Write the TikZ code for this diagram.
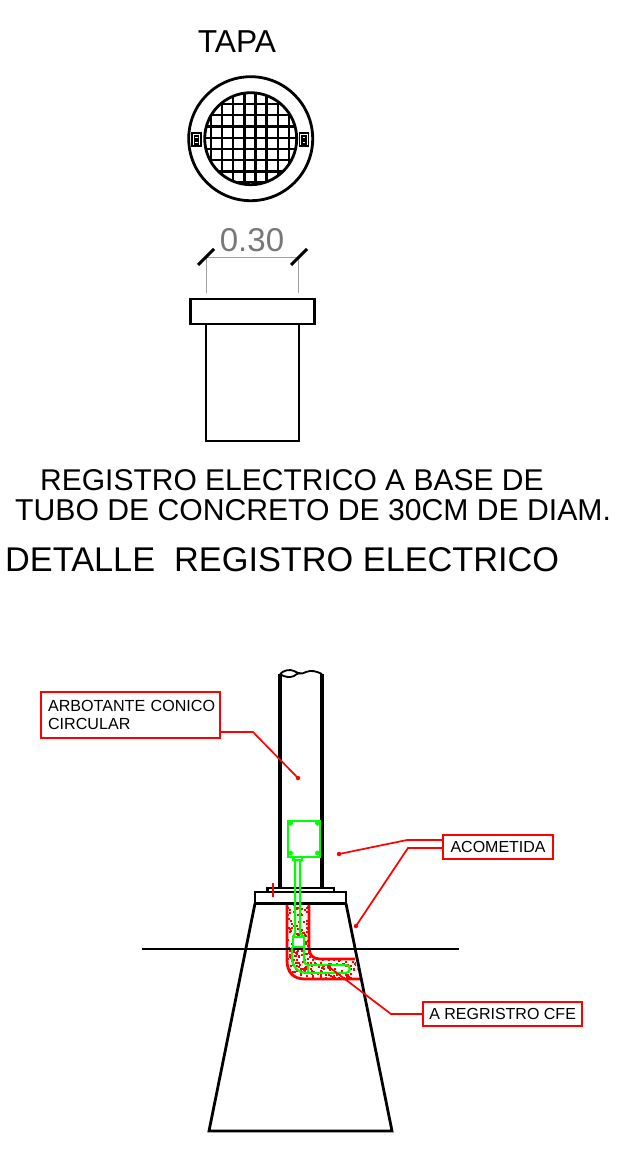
\documentclass[tikz,border=0pt]{standalone}
\usepackage{fontspec}
\setmainfont{Liberation Sans}
\definecolor{cadgreen}{RGB}{0,255,0}
\definecolor{cadred}{RGB}{255,0,0}
\definecolor{dimgray}{RGB}{120,120,120}
\newcommand{\fs}[1]{\fontsize{#1}{#1}\selectfont}
\tikzset{
  x=1pt,y=-1pt,
  obj/.style={draw=black,line width=2.8pt},
  thin obj/.style={draw=black,line width=1.8pt},
  grn/.style={draw=cadgreen,line width=2.3pt},
  concrete/.style={draw=cadred,line width=2.8pt},
  leader/.style={draw=cadred,line width=1.7pt},
  lbl/.style={draw=cadred,line width=2.2pt,fill=white,align=left,anchor=west,inner sep=0pt,text=black},
  title/.style={inner sep=0pt,anchor=base west},
  tip/.style={circle,fill=cadred,inner sep=0pt,minimum size=4.5pt},
  gdot/.style={circle,fill=cadgreen,inner sep=0pt,minimum size=5pt}
}
\begin{document}
\begin{tikzpicture}
\useasboundingbox (0,0) rectangle (624,1153);
\fill[white] (0,0) rectangle (624,1153);
% texts
\node[inner sep=0pt,anchor=base] (tapa) at (237,53) {\fs{31.7}TAPA};
\node[title] (l1) at (40,490.5) {\fs{30}REGISTRO ELECTRICO A BASE DE};
\node[title] (l2) at (15,520) {\fs{30.15}TUBO DE CONCRETO DE 30CM DE DIAM.};
\node[title] (l3) at (5,571) {\fs{34.3}DETALLE\ \ REGISTRO ELECTRICO};
% lid
\draw[obj] (250.7,138.7) circle (62);
\begin{scope}
\clip (250.7,138.7) circle (46);
\foreach \x in {211,222,233,244.5,255.5,266.5,278,289}
  \draw[black,line width=2.3pt] (\x,90) -- (\x,190);
\foreach \y in {104,115,126.5,138,149,160,171.5,182}
  \draw[black,line width=2.3pt] (200,\y) -- (300,\y);
\end{scope}
\draw[obj] (250.7,138.7) circle (46);
\foreach \x in {196.7,304}{
  \draw[black,line width=1.6pt,fill=white] (\x-4.5,133) rectangle (\x+4.5,146);
  \draw[black,line width=1.2pt] (\x-2,136) rectangle (\x+2,139);
  \draw[black,line width=1.2pt] (\x-2,141) rectangle (\x+2,144);
}
% dimension
\node[inner sep=0pt,anchor=base,text=dimgray] (dimtxt) at (252,251) {\fs{33}0.30};
\draw[dimgray!70,line width=0.9pt] (206,257) -- (206,293);
\draw[dimgray!70,line width=0.9pt] (298,257) -- (298,293);
\draw[dimgray!70,line width=0.9pt] (206,257) -- (298,257);
\draw[black,line width=3pt] (198,265) -- (214,249);
\draw[black,line width=3pt] (291,265) -- (307,249);
% section
\draw[obj] (190.5,299) rectangle (314.5,324);
\draw[obj] (206,324) rectangle (299,441);
% concrete envelope
\begin{scope}
\clip (287,903) -- (287,960) .. controls (287,972) and (293,979) .. (305,979) -- (360,979) -- (355,959) -- (320,959) .. controls (313,959) and (309,955) .. (309,948) -- (309,903) -- cycle;
\pgfmathsetseed{7}
\foreach \i in {1,...,520}{
  \pgfmathsetmacro{\px}{285+rnd*78}
  \pgfmathsetmacro{\py}{903+rnd*78}
  \fill[cadred] (\px,\py) rectangle ++(2,2);
}
\end{scope}
\draw[concrete] (287,903) -- (287,960) .. controls (287,972) and (293,979) .. (305,979) -- (360,979);
\draw[concrete] (309,903) -- (309,948) .. controls (309,955) and (313,959) .. (320,959) -- (355,959);
% pole
\draw[obj,line width=3.3pt] (280,888) -- (280,674);
\draw[obj,line width=3.3pt] (322,888) -- (322,674);
\draw[thin obj] (280,674) .. controls (284,670) and (290,669) .. (294,671) .. controls (298,673) and (301,675) .. (306,672) .. controls (311,670) and (316,671) .. (322,674);
\draw[thin obj] (280,674) .. controls (284,677) and (290,678) .. (294,676) .. controls (297,674) and (298,673) .. (300,673);
% base
\draw[obj,line width=2.2pt] (267.5,888) rectangle (334,892);
\draw[obj,line width=2.4pt] (255,892) rectangle (346,903.5);
\draw[obj] (255,903.5) -- (209,1131) -- (392,1131) -- (346,903.5);
\draw[obj] (142,949) -- (459,949);
\draw[cadred,line width=1.7pt] (273,883) -- (273,897);
% green
\node[draw=cadgreen,line width=2.4pt,minimum width=32pt,minimum height=36pt,inner sep=0pt] (jbox) at (304,839) {};
\foreach \a/\b in {290.5/823,317.5/823,290.5/853,317.5/853}
  \node[gdot] at (\a,\b) {};
\draw[grn] (293.5,857) rectangle (302,860);
\draw[grn] (295,860) -- (295,933) -- (293,937);
\draw[grn] (300,860) -- (300,933) -- (304,937);
\draw[grn,fill=white] (293,937) rectangle (304,947);
\draw[grn] (292,947) -- (292,957) .. controls (292,967) and (298,973) .. (308,973) -- (346,973) .. controls (351,973) and (351,965) .. (346,965) -- (308,965);
\draw[grn] (304,947) -- (304,959) .. controls (304,962) and (305,965) .. (308,965);
\draw[grn] (308,965) -- (308,973);
% labels
\node[lbl,minimum width=179pt,minimum height=46pt,text width=175pt,inner xsep=2pt,font=\fontsize{16.1}{18.5}\selectfont] (b1) at (40,715) {\hspace*{5pt}ARBOTANTE CONICO\\\hspace*{5pt}CIRCULAR};
\node[lbl,minimum width=110pt,minimum height=24pt,align=center] (b2) at (442,847) {\fs{16}ACOMETIDA};
\node[lbl,minimum width=159pt,minimum height=24pt,align=center] (b3) at (422,1014) {\fs{16}A REGRISTRO CFE};
\node[tip] (t1) at (298,778) {};
\node[tip] (t2) at (339,854) {};
\node[tip] (t3) at (356,926) {};
\node[tip] (t4) at (329,967) {};
\coordinate (k1) at (253,732);
\coordinate (k2) at (407,840);
\coordinate (k3) at (408,848);
\coordinate (k4) at (391,1014);
\draw[leader] (b1.east |- k1) -- (k1) -- (t1.center);
\draw[leader] (b2.west |- k2) -- (k2) -- (t2.center);
\draw[leader] (b2.west |- k3) -- (k3) -- (t3.center);
\draw[leader] (b3.west) -- (k4) -- (t4.center);
\end{tikzpicture}
\end{document}
